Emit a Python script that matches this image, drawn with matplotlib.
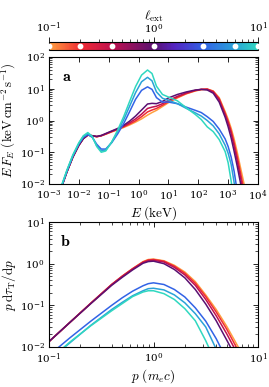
import numpy as np
import matplotlib
matplotlib.use('Agg')
import matplotlib.pyplot as plt
from matplotlib.colors import LinearSegmentedColormap, LogNorm
from matplotlib.cm import ScalarMappable

plt.rcParams['mathtext.fontset'] = 'cm'
plt.rcParams['font.family'] = 'DejaVu Serif'

#%% data (log10 values for the log axes)
l_ext = [0.1, 0.2, 0.4, 1.0, 3.0, 6.0, 10.0]

# panel a : log10 E [keV]
logE = [-2.6, -2.4, -2.2, -2.0, -1.85, -1.7, -1.55, -1.4, -1.25, -1.1, -0.9, -0.7,
        -0.5, -0.3, -0.1, 0.1, 0.3, 0.45, 0.6, 0.8, 1.0, 1.3, 1.6, 1.9, 2.1, 2.3,
        2.5, 2.7, 2.9, 3.0, 3.1, 3.2, 3.3, 3.4, 3.5, 3.6, 3.7]

logEF_01 = [-2.15, -1.62, -1.15, -0.78, -0.57, -0.46, -0.48, -0.51, -0.48, -0.43, -0.36, -0.29,
            -0.22, -0.14, -0.05, 0.05, 0.17, 0.25, 0.32, 0.44, 0.56, 0.71, 0.84, 0.93, 0.97, 0.99,
            0.93, 0.72, 0.28, 0.04, -0.24, -0.58, -0.98, -1.42, -1.85, -2.3, -2.8]
logEF_02 = [-2.15, -1.62, -1.15, -0.78, -0.57, -0.46, -0.48, -0.51, -0.48, -0.43, -0.35, -0.28,
            -0.20, -0.11, -0.01, 0.12, 0.27, 0.33, 0.38, 0.48, 0.59, 0.73, 0.85, 0.94, 0.98, 0.99,
            0.92, 0.69, 0.23, -0.03, -0.32, -0.70, -1.12, -1.58, -2.05, -2.55, -3.0]
logEF_04 = [-2.15, -1.62, -1.15, -0.78, -0.57, -0.46, -0.48, -0.51, -0.48, -0.42, -0.34, -0.27,
            -0.18, -0.07, 0.05, 0.20, 0.38, 0.42, 0.45, 0.53, 0.63, 0.76, 0.87, 0.95, 0.98, 0.98,
            0.90, 0.65, 0.18, -0.09, -0.40, -0.80, -1.25, -1.72, -2.2, -2.7, -3.2]
logEF_1 = [-2.15, -1.62, -1.15, -0.78, -0.57, -0.46, -0.48, -0.50, -0.47, -0.41, -0.33, -0.25,
           -0.15, -0.02, 0.14, 0.33, 0.52, 0.54, 0.53, 0.60, 0.71, 0.82, 0.90, 0.96, 0.98, 0.96,
           0.86, 0.58, 0.10, -0.20, -0.55, -0.97, -1.42, -1.90, -2.4, -2.9, -3.4]
logEF_3 = [-2.15, -1.60, -1.12, -0.74, -0.53, -0.44, -0.53, -0.75, -0.90, -0.90, -0.70, -0.42,
           -0.10, 0.28, 0.67, 0.95, 1.06, 0.98, 0.72, 0.58, 0.58, 0.53, 0.42, 0.32, 0.25, 0.12,
           -0.03, -0.27, -0.58, -0.82, -1.15, -1.60, -2.2, -2.8, -3.4, -4.0, -4.6]
logEF_6 = [-2.12, -1.58, -1.10, -0.72, -0.50, -0.41, -0.52, -0.80, -0.96, -0.93, -0.68, -0.35,
           0.02, 0.45, 0.88, 1.22, 1.36, 1.25, 0.90, 0.70, 0.64, 0.53, 0.38, 0.24, 0.14, 0.0,
           -0.17, -0.42, -0.78, -1.03, -1.38, -1.95, -2.5, -3.1, -3.7, -4.3, -4.9]
logEF_10 = [-2.10, -1.56, -1.08, -0.70, -0.48, -0.38, -0.50, -0.82, -1.00, -0.96, -0.68, -0.30,
            0.12, 0.60, 1.07, 1.43, 1.59, 1.48, 1.08, 0.82, 0.74, 0.62, 0.40, 0.19, 0.03, -0.20,
            -0.35, -0.60, -0.98, -1.33, -1.90, -2.6, -3.3, -4.0, -4.7, -5.4, -6.1]

# panel b : log10 p [m_e c]
logp = [-1.0, -0.8, -0.6, -0.4, -0.3, -0.2, -0.1, -0.05, 0.0, 0.1, 0.2, 0.3, 0.4, 0.5,
        0.6, 0.7, 0.8, 0.9]

logtau_01 = [-1.87, -1.41, -0.95, -0.50, -0.30, -0.12, 0.05, 0.10, 0.11, 0.07, -0.04, -0.20,
             -0.43, -0.75, -1.10, -1.50, -1.95, -2.4]
logtau_02 = [-1.87, -1.41, -0.95, -0.50, -0.30, -0.12, 0.04, 0.09, 0.10, 0.06, -0.06, -0.23,
             -0.47, -0.79, -1.16, -1.57, -2.04, -2.5]
logtau_04 = [-1.87, -1.41, -0.95, -0.50, -0.31, -0.13, 0.03, 0.07, 0.08, 0.04, -0.09, -0.27,
             -0.52, -0.86, -1.25, -1.68, -2.15, -2.6]
logtau_1 = [-1.87, -1.41, -0.96, -0.52, -0.33, -0.15, 0.01, 0.05, 0.06, 0.00, -0.14, -0.34,
            -0.62, -0.97, -1.37, -1.83, -2.3, -2.8]
logtau_3 = [-2.2, -1.78, -1.38, -1.0, -0.82, -0.66, -0.53, -0.48, -0.46, -0.50, -0.62, -0.80,
            -1.06, -1.38, -1.80, -2.3, -2.8, -3.3]
logtau_6 = [-2.32, -1.9, -1.48, -1.1, -0.93, -0.77, -0.65, -0.60, -0.59, -0.63, -0.75, -0.94,
            -1.2, -1.52, -2.05, -2.6, -3.1, -3.6]
logtau_10 = [-2.32, -1.88, -1.49, -1.13, -0.96, -0.79, -0.68, -0.65, -0.65, -0.72, -0.86, -1.08,
             -1.37, -1.85, -2.4, -3.0, -3.6, -4.2]

curves_a = [logEF_01, logEF_02, logEF_04, logEF_1, logEF_3, logEF_6, logEF_10]
curves_b = [logtau_01, logtau_02, logtau_04, logtau_1, logtau_3, logtau_6, logtau_10]

#%% colormap
cmap = LinearSegmentedColormap.from_list('lext', [
    (0.0, '#ffa040'), (0.15, '#f02c34'), (0.30, '#c0104e'), (0.5, '#5a1070'),
    (0.6, '#5424c0'), (0.74, '#3262e6'), (0.89, '#2aa2d8'), (1.0, '#30d8c0')])
norm = LogNorm(0.1, 10)

#%% figure
W, H = 269, 387
fig = plt.figure(figsize=(W / 100, H / 100), dpi=100)
cax = fig.add_axes([49 / W, (H - 50) / H, 209 / W, 8.5 / H])
ax_a = fig.add_axes([49 / W, (H - 184) / H, 209 / W, 127 / H])
ax_b = fig.add_axes([49 / W, (H - 347) / H, 209 / W, 125 / H])

cb = fig.colorbar(ScalarMappable(norm=norm, cmap=cmap), cax=cax, orientation='horizontal')
cax.xaxis.set_ticks_position('top')
cax.xaxis.set_label_position('top')
cax.set_xlabel(r'$\ell_\mathrm{ext}$', fontsize=9.5, labelpad=0.5)
cax.tick_params(labelsize=7.5, length=3.5, width=0.6, pad=1.5)
cax.tick_params(which='minor', length=2, width=0.5)
cb.outline.set_linewidth(0.8)
cax.scatter(l_ext, [0.5] * len(l_ext), s=10, color='white', zorder=10, clip_on=False)

for i, l in enumerate(l_ext):
    c = cmap(norm(l))
    ax_a.plot(10 ** np.array(logE), 10 ** np.array(curves_a[i]), color=c, lw=1.1)
    ax_b.plot(10 ** np.array(logp), 10 ** np.array(curves_b[i]), color=c, lw=1.1)

ax_a.set_xscale('log')
ax_a.set_yscale('log')
ax_a.set_xlim(1e-3, 1e4)
ax_a.set_ylim(1e-2, 1e2)
ax_a.set_xticks([10.0 ** k for k in range(-3, 5)])
ax_a.set_xlabel(r'$E\ (\mathrm{keV})$', fontsize=9.5, labelpad=1)
ax_a.set_ylabel(r'$E\,F_E\ (\mathrm{keV\,cm^{-2}\,s^{-1}})$', fontsize=9.3)
ax_a.yaxis.set_label_coords(-0.148, 0.5)
ax_a.text(0.085, 0.845, r'$\mathbf{a}$', transform=ax_a.transAxes, fontsize=11.5,
          ha='center', va='center')

ax_b.set_xscale('log')
ax_b.set_yscale('log')
ax_b.set_xlim(1e-1, 1e1)
ax_b.set_ylim(1e-2, 1e1)
ax_b.set_xlabel(r'$p\ (m_e c)$', fontsize=9.5, labelpad=1)
ax_b.set_ylabel(r'$p\,\mathrm{d}\tau_\mathrm{T}/\mathrm{d}p$', fontsize=9.5)
ax_b.yaxis.set_label_coords(-0.148, 0.5)
ax_b.text(0.077, 0.846, r'$\mathbf{b}$', transform=ax_b.transAxes, fontsize=11.5,
          ha='center', va='center')

for a in (ax_a, ax_b):
    a.tick_params(which='both', direction='in', top=True, right=True, labelsize=7.5, pad=3)
    a.tick_params(which='major', length=3.5, width=0.6)
    a.tick_params(which='minor', length=2, width=0.5)
    for s in a.spines.values():
        s.set_linewidth(0.8)

fig.savefig('out.png', dpi=100)
